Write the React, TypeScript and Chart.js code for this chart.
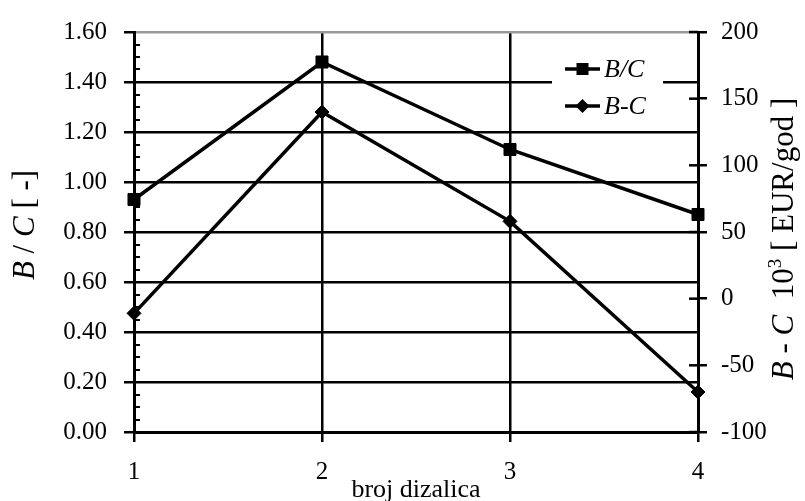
import React, { useEffect, useRef } from 'react';
import { Chart, registerables } from 'chart.js';
Chart.register(...registerables);

const categories = [1, 2, 3, 4];
const bcRatio = [0.93, 1.48, 1.13, 0.87];
const bcDiff = [-11, 140, 58, -70];
const seriesLabels = ['B/C', 'B-C'];
const xTitle = 'broj dizalica';

const FONT = '"Liberation Serif", "Times New Roman", serif';

type Seg = { t: string; it?: boolean; sup?: boolean };
const leftTitle: Seg[] = [
  { t: 'B', it: true }, { t: ' / ' }, { t: 'C', it: true }, { t: ' [ -]' },
];
const rightTitle: Seg[] = [
  { t: 'B', it: true }, { t: ' - ' }, { t: 'C', it: true }, { t: '  10' }, { t: '3', sup: true }, { t: ' [ EUR/god ]' },
];

function segFont(s: Seg, size: number) {
  const sz = s.sup ? Math.round(size * 0.62) : size;
  return `${s.it ? 'italic ' : ''}${sz}px ${FONT}`;
}

function drawSegs(ctx: CanvasRenderingContext2D, segs: Seg[], size: number) {
  let w = 0;
  for (const s of segs) { ctx.font = segFont(s, size); w += ctx.measureText(s.t).width; }
  let x = -w / 2;
  ctx.textAlign = 'left';
  ctx.textBaseline = 'alphabetic';
  for (const s of segs) {
    ctx.font = segFont(s, size);
    ctx.fillText(s.t, x, s.sup ? -size * 0.38 : 0);
    x += ctx.measureText(s.t).width;
  }
}

export default function App() {
  const ref = useRef<HTMLCanvasElement>(null);
  useEffect(() => {
    if (!ref.current) return;
    const YTITLE = 31;
    const XTITLE = 26;
    const deco = {
      id: 'deco',
      beforeDatasetsDraw(chart: any) {
        const ctx = chart.ctx as CanvasRenderingContext2D;
        const { right, top } = chart.chartArea;
        ctx.save();
        ctx.fillStyle = '#fff';
        ctx.fillRect(right - 146, top + 14, 111, 74);
        ctx.restore();
      },
      afterDraw(chart: any) {
        const ctx = chart.ctx as CanvasRenderingContext2D;
        const { left, right } = chart.chartArea;
        const top = chart.chartArea.top;
        const ys = chart.scales.y;
        const y2 = chart.scales.y2;
        ctx.save();
        ctx.strokeStyle = '#000';
        ctx.lineWidth = 2;
        // minor ticks on left axis
        for (let k = 1; k < 32; k++) {
          if (k % 4 === 0) continue;
          const py = Math.round(ys.getPixelForValue(k * 0.05));
          ctx.beginPath(); ctx.moveTo(left, py); ctx.lineTo(left + 6, py); ctx.stroke();
        }
        // inward part of right axis ticks
        ctx.lineWidth = 2.5;
        for (const t of y2.ticks) {
          const py = y2.getPixelForValue(t.value);
          ctx.beginPath(); ctx.moveTo(right - 9, py); ctx.lineTo(right, py); ctx.stroke();
        }
        // legend
        const items = [
          { label: seriesLabels[0], style: 'rect', y: top + 37 },
          { label: seriesLabels[1], style: 'diamond', y: top + 74 },
        ];
        for (const it of items) {
          const x0 = right - 133, x1 = right - 98, xm = (x0 + x1) / 2;
          ctx.strokeStyle = '#000'; ctx.lineWidth = 3.5;
          ctx.beginPath(); ctx.moveTo(x0, it.y); ctx.lineTo(x1, it.y); ctx.stroke();
          ctx.fillStyle = '#000';
          if (it.style === 'rect') {
            ctx.fillRect(xm - 6, it.y - 6, 12, 12);
          } else {
            ctx.beginPath();
            ctx.moveTo(xm, it.y - 7); ctx.lineTo(xm + 7, it.y); ctx.lineTo(xm, it.y + 7); ctx.lineTo(xm - 7, it.y);
            ctx.closePath(); ctx.fill();
          }
          ctx.font = `italic ${XTITLE}px ${FONT}`;
          ctx.textAlign = 'left'; ctx.textBaseline = 'middle';
          ctx.fillText(it.label, x1 + 4, it.y + 1);
        }
        // x title
        ctx.fillStyle = '#000';
        ctx.font = `${XTITLE}px ${FONT}`;
        ctx.textAlign = 'center'; ctx.textBaseline = 'alphabetic';
        ctx.fillText(xTitle, (left + right) / 2, 497);
        // left title
        ctx.save();
        ctx.translate(34, 225);
        ctx.rotate(-Math.PI / 2);
        drawSegs(ctx, leftTitle, YTITLE);
        ctx.restore();
        // right title
        ctx.save();
        ctx.translate(793, 239);
        ctx.rotate(-Math.PI / 2);
        drawSegs(ctx, rightTitle, YTITLE);
        ctx.restore();
        ctx.restore();
      },
    };
    const tickFont = { family: FONT, size: 25 };
    const chart = new Chart(ref.current, {
      type: 'line',
      data: {
        datasets: [
          {
            label: seriesLabels[0],
            data: categories.map((x, i) => ({ x, y: bcRatio[i] })),
            yAxisID: 'y',
            borderColor: '#000', backgroundColor: '#000', borderWidth: 3.5,
            pointStyle: 'rect', pointRadius: 8.5, pointBorderWidth: 1,
            pointBackgroundColor: '#000', pointBorderColor: '#000',
            tension: 0, clip: false,
          },
          {
            label: seriesLabels[1],
            data: categories.map((x, i) => ({ x, y: bcDiff[i] })),
            yAxisID: 'y2',
            borderColor: '#000', backgroundColor: '#000', borderWidth: 3.5,
            pointStyle: 'rectRot', pointRadius: 7, pointBorderWidth: 1,
            pointBackgroundColor: '#000', pointBorderColor: '#000',
            tension: 0, clip: false,
          },
        ],
      } as any,
      options: {
        responsive: false,
        animation: false,
        layout: { padding: { top: 28, left: 0, right: 0, bottom: 0 } },
        plugins: { legend: { display: false }, tooltip: { enabled: false } },
        scales: {
          x: {
            type: 'linear', min: 1, max: 4,
            afterFit: (s: any) => { s.height = 69; },
            ticks: { stepSize: 1, color: '#000', font: tickFont, padding: 15 },
            grid: { color: '#000', lineWidth: 2.5, tickLength: 10, tickColor: '#000', tickWidth: 2.5 },
            border: { color: '#000', width: 3 },
          },
          y: {
            position: 'left', min: 0, max: 1.6,
            afterFit: (s: any) => { s.width = 134; },
            ticks: { stepSize: 0.2, color: '#000', font: tickFont, padding: 17, callback: (v: any) => Number(v).toFixed(2) },
            grid: {
              color: (c: any) => (c.tick && Math.abs(c.tick.value - 1.6) < 1e-6 ? '#999' : '#000'),
              lineWidth: 2.5, tickLength: 10, tickColor: '#000', tickWidth: 2.5,
            },
            border: { color: '#000', width: 3 },
          },
          y2: {
            position: 'right', min: -100, max: 200,
            afterFit: (s: any) => { s.width = 107; },
            ticks: { stepSize: 50, color: '#000', font: tickFont, padding: 14 },
            grid: { drawOnChartArea: false, color: '#000', lineWidth: 2.5, tickLength: 9, tickColor: '#000', tickWidth: 2.5 },
            border: { color: '#000', width: 3 },
          },
        },
      } as any,
      plugins: [deco],
    });
    return () => chart.destroy();
  }, []);
  return (
    <div style={{ position: 'absolute', left: 0, top: 0, width: 805, height: 501 }}>
      <canvas ref={ref} width={805} height={501} style={{ display: 'block' }} />
    </div>
  );
}
